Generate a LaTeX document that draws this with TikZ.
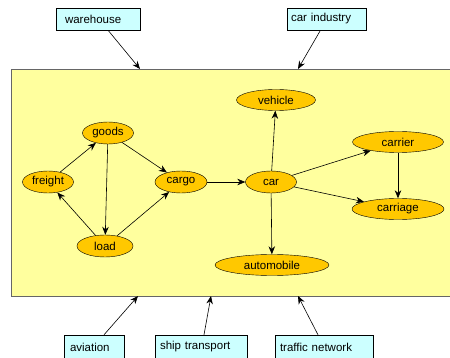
\documentclass[tikz,border=0pt]{standalone}
\usepackage{fontspec}
\setmainfont{Liberation Sans}
\usetikzlibrary{shapes.geometric,arrows.meta}
\definecolor{panel}{HTML}{FFFF9E}
\definecolor{term}{HTML}{FFC800}
\definecolor{ext}{HTML}{CCFFFF}
\tikzset{
  x=1pt, y=-1pt,
  lbl/.style={font=\fontsize{11.5}{13}\selectfont},
  term/.style={ellipse, draw, fill=term, inner sep=0pt, lbl},
  ext/.style={rectangle, draw, fill=ext, inner ysep=0pt, align=left, lbl},
  link/.style={-{Stealth[length=8pt,width=6.5pt]}, line width=0.6pt},
}
\begin{document}
\begin{tikzpicture}
\useasboundingbox (0,0) rectangle (450,358);
\clip (0,0) rectangle (450,358);
% panel holding the term graph
\draw[fill=panel, draw=black!60, line width=0.8pt] (11,69) rectangle (470,296);
\coordinate (tw) at (140,69);
\coordinate (tc) at (298,69);
\coordinate (ba) at (138,296);
\coordinate (bs) at (211,296);
\coordinate (bt) at (298,296);
% external boxes
\node[ext, inner xsep=9pt, text width=66pt, minimum height=22pt] (warehouse) at (98,19) {warehouse};
\node[ext, inner xsep=4pt, text width=71pt, minimum height=22pt] (carind) at (326.5,19) {car industry};
\node[ext, inner xsep=6pt, text width=48pt, minimum height=24pt] (aviation) at (94,347) {aviation};
\node[ext, inner xsep=5pt, text width=82pt, minimum height=24pt] (ship) at (201,347) {ship transport};
\node[ext, inner xsep=5pt, text width=88pt, minimum height=24pt] (traffic) at (324,347) {traffic network};
% terms
\node[term, minimum width=51pt, minimum height=22pt] (goods) at (108,133) {goods};
\node[term, minimum width=51pt, minimum height=22pt] (freight) at (48,182) {freight};
\node[term, minimum width=52pt, minimum height=22pt] (cargo) at (181,182) {cargo};
\node[term, minimum width=56pt, minimum height=22pt] (load) at (105,246) {load};
\node[term, minimum width=79pt, minimum height=21pt] (vehicle) at (276,100) {vehicle};
\node[term, minimum width=51pt, minimum height=22pt] (car) at (271,182) {car};
\node[term, minimum width=91pt, minimum height=21pt] (carrier) at (398,142) {carrier};
\node[term, minimum width=92pt, minimum height=21pt] (carriage) at (398,209) {carriage};
\node[term, minimum width=114pt, minimum height=21pt] (automobile) at (272,265) {automobile};
% relations
\draw[link] (freight) -- (goods);
\draw[link] (goods) -- (cargo);
\draw[link] (goods) -- (load);
\draw[link] (load) -- (freight);
\draw[link] (load) -- (cargo);
\draw[link] (cargo) -- (car);
\draw[link] (car) -- (vehicle);
\draw[link] (car) -- (carrier);
\draw[link] (car) -- (carriage);
\draw[link] (car) -- (automobile);
\draw[link] (carrier) -- (carriage);
% external links
\draw[link] ([xshift=10pt]warehouse.south) -- (tw);
\draw[link] ([xshift=-6pt]carind.south) -- (tc);
\draw[link] ([xshift=10pt]aviation.north) -- (ba);
\draw[link] ([xshift=3pt]ship.north) -- (bs);
\draw[link] ([xshift=-6pt]traffic.north) -- (bt);
\end{tikzpicture}
\end{document}
